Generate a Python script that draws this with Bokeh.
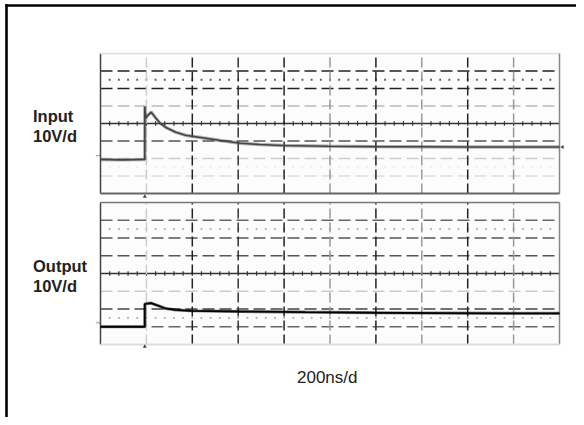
from bokeh.plotting import figure
from bokeh.models import Range1d
from bokeh.core.properties import value
from bokeh.embed import file_html
from bokeh.resources import INLINE
import math

# ---- data (time in ns, volts) ----
in_t = [-193, -100, -7, 0, 0, 4, 12, 28, 46, 68, 90, 133, 177, 243, 330, 417,
        500, 600, 800, 1000, 1200, 1400, 1600, 1807]
in_v = [-20.6, -20.8, -20.6, -20.6, 9.7, 3.0, 4.5, 6.5, 3.4, 0.0, -2.1, -4.9,
        -6.7, -8.0, -9.7, -11.3, -12.0, -12.6, -13.0, -13.2, -13.3, -13.4, -13.4, -13.4]
out_t = [-193, -100, -5, 0, 0, 10, 28, 68, 90, 133, 200, 417, 700, 1000, 1300,
         1600, 1807]
out_v = [-30.0, -30.0, -30.0, -30.0, -17.2, -17.0, -16.7, -18.6, -19.7, -20.5,
         -21.0, -21.4, -21.8, -22.1, -22.3, -22.5, -22.5]
in_label = ["Input", "10V/d"]
out_label = ["Output", "10V/d"]
time_label = "200ns/d"
t_div = 200      # ns per division
v_div = 10       # V per division
n_xdiv = 10
n_ydiv = 8
t_start = -193

# ---- layout (picture pixel coordinates) ----
FX0, FX1, FY0, FY1 = 0, 576, 0, 417
PX0, PX1 = 100, 559
UP_TOP, UP_BOT = 53, 193
LO_TOP, LO_BOT = 202, 344

t_end = t_start + n_xdiv * t_div
vmax = n_ydiv / 2 * v_div
ns_px = (t_end - t_start) / (PX1 - PX0)

def vrange(top, bot):
    vp = 2 * vmax / (bot - top)
    return Range1d(vmax - (FY1 - top) * vp, vmax + (top - FY0) * vp)

p = figure(width=FX1 - FX0, height=FY1 - FY0,
           x_range=Range1d(FX0, FX1), y_range=Range1d(FY1, FY0),
           x_axis_type=None, y_axis_type=None,
           output_backend="svg", toolbar_location=None, min_border=0)
p.grid.visible = False
p.outline_line_color = None
p.background_fill_color = "white"
p.extra_x_ranges = {"t": Range1d(t_start - (PX0 - FX0) * ns_px,
                                 t_start + (FX1 - PX0) * ns_px)}
p.extra_y_ranges = {"vin": vrange(UP_TOP, UP_BOT), "vout": vrange(LO_TOP, LO_BOT)}

# page border (black, left & top)
p.segment(x0=[6, 4.8], y0=[3.8, 5], x1=[6, FX1], y1=[FY1, 5],
          line_color="black", line_width=2.6)

vdiv_t = [t_start + k * t_div for k in range(1, n_xdiv)]
sub_t = [t_start + k * t_div / 5 for k in range(1, n_xdiv * 5)]

def panel(rn, hstyles, dots, border_cols):
    kw = dict(x_range_name="t", y_range_name=rn)
    p.quad(left=t_start, right=t_end, bottom=-vmax, top=vmax,
           fill_color="#fcfcfc", line_color=None, **kw)
    # horizontal graticule
    for i, (col, dash) in enumerate(hstyles):
        vv = vmax - (i + 1) * v_div
        if dash == "solid":
            p.segment(x0=t_start, y0=vv, x1=t_end, y1=vv, line_color=col,
                      line_width=1.3, **kw)
        else:
            p.segment(x0=t_start, y0=vv, x1=t_end, y1=vv, line_color=col,
                      line_width=1.4, line_dash=dash, **kw)
    # dotted sub-rows
    for vv, col in dots:
        p.scatter(x=sub_t, y=[vv] * len(sub_t), marker="square", size=1.8,
                  fill_color=col, line_color=None, **kw)
    # ticks on the centre line
    tk = 2 * vmax / (UP_BOT - UP_TOP) * 2.2
    p.segment(x0=sub_t, y0=[-tk] * len(sub_t), x1=sub_t, y1=[tk] * len(sub_t),
              line_color="#333333", line_width=1.2, **kw)
    # vertical graticule
    vcols = ["#cccccc", "#222222", "#333333", "#222222", "#999999",
             "#222222", "#999999", "#222222", "#999999"]
    for tt, col in zip(vdiv_t, vcols):
        p.segment(x0=tt, y0=-vmax, x1=tt, y1=vmax, line_color=col,
                  line_width=1.5, line_dash="10 4", **kw)
    # panel borders: left, top, right, bottom
    lc, tc, rc, bc = border_cols
    p.segment(x0=t_start, y0=-vmax, x1=t_start, y1=vmax, line_color=lc, line_width=1.5, **kw)
    p.segment(x0=t_start, y0=vmax, x1=t_end, y1=vmax, line_color=tc, line_width=1.5, **kw)
    p.segment(x0=t_end, y0=-vmax, x1=t_end, y1=vmax, line_color=rc, line_width=1.5, **kw)
    p.segment(x0=t_start, y0=-vmax, x1=t_end, y1=-vmax, line_color=bc, line_width=1.8, **kw)

panel("vin",
      [("#222222", "12 5"), ("#222222", "12 5"), ("#bbbbbb", "12 5"), ("#333333", "solid"),
       ("#555555", "12 5"), ("#cccccc", "12 5"), ("#dddddd", "12 5")],
      [(25, "#555555"), (-25, "#eeeeee")],
      ("#444444", "#dddddd", "#888888", "#666666"))
panel("vout",
      [("#666666", "12 5"), ("#555555", "12 5"), ("#555555", "12 5"), ("#333333", "solid"),
       ("#cccccc", "12 5"), ("#444444", "12 5"), ("#666666", "12 5")],
      [(25, "#aaaaaa"), (-25, "#aaaaaa")],
      ("#444444", "#777777", "#888888", "#dddddd"))

# traces
p.line(in_t, in_v, line_color="#555555", line_width=3.4, line_alpha=0.45,
       x_range_name="t", y_range_name="vin")
p.line(in_t, in_v, line_color="#444444", line_width=1.6,
       x_range_name="t", y_range_name="vin")
p.line(out_t, out_v, line_color="#111111", line_width=3.2, line_alpha=0.5,
       x_range_name="t", y_range_name="vout")
p.line(out_t, out_v, line_color="#000000", line_width=1.8,
       x_range_name="t", y_range_name="vout")

# channel / trigger markers
px_v_in = 2 * vmax / (UP_BOT - UP_TOP)
px_v_out = 2 * vmax / (LO_BOT - LO_TOP)
p.scatter(x=[0], y=[-vmax - 3 * px_v_in], marker="triangle", size=4,
          fill_color="#444444", line_color=None, x_range_name="t", y_range_name="vin")
p.scatter(x=[0], y=[-vmax - 2 * px_v_out], marker="triangle", size=4,
          fill_color="#444444", line_color=None, x_range_name="t", y_range_name="vout")
p.scatter(x=[t_end + 3 * ns_px], y=[in_v[-1]], marker="triangle", size=4,
          angle=math.pi / 2, fill_color="#444444", line_color=None,
          x_range_name="t", y_range_name="vin")
p.text(x=[t_start - 1 * ns_px], y=[in_v[0] + 4 * px_v_in], text=["1"], angle=math.pi / 2,
       text_font_size="6px", text_color="#666666", text_baseline="bottom",
       text_align="center", x_range_name="t", y_range_name="vin")
p.text(x=[t_start - 1 * ns_px], y=[out_v[0] + 4 * px_v_out], text=["2"], angle=math.pi / 2,
       text_font_size="6px", text_color="#666666", text_baseline="bottom",
       text_align="center", x_range_name="t", y_range_name="vout")

# labels
font = value("Liberation Sans")
p.text(x=[32.5, 32.5], y=[115.7, 135.2], text=in_label, text_font=font,
       text_font_size="16.5px", text_font_style="bold", text_color="#222222",
       text_baseline="alphabetic")
p.text(x=[32.5, 32.5], y=[265.5, 285.2], text=out_label, text_font=font,
       text_font_size="16.5px", text_font_style="bold", text_color="#222222",
       text_baseline="alphabetic")
p.text(x=[296.5], y=[377.3], text=[time_label], text_font=font,
       text_font_size="17px", text_color="#222222", text_baseline="alphabetic")

open("out.html", "w").write(file_html(p, INLINE))
